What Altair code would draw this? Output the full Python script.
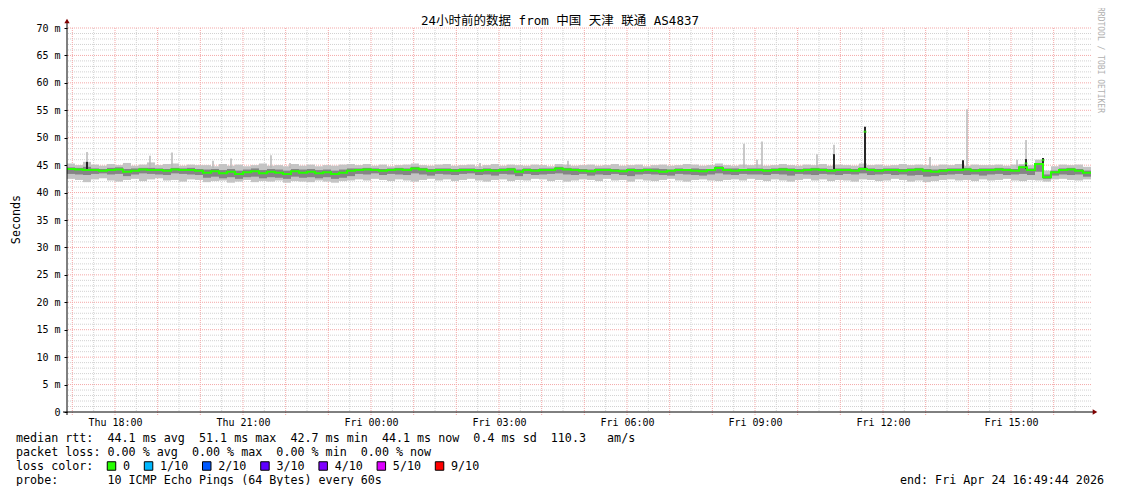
import altair as alt
import pandas as pd

# ---------------- data ----------------
TITLE = "24小时前的数据 from 中国 天津 联通 AS4837"
START_H = 16.875          # Thu 16:52:30 (hours since Thu 00:00)
END_H = 40.875            # Fri 16:52:30
BIN_H = 0.1875            # one bin = 11.25 minutes

tick_hours = [18, 21, 24, 27, 30, 33, 36, 39]
tick_labels = ["Thu 18:00", "Thu 21:00", "Fri 00:00", "Fri 03:00",
               "Fri 06:00", "Fri 09:00", "Fri 12:00", "Fri 15:00"]
y_ticks = [0, 5, 10, 15, 20, 25, 30, 35, 40, 45, 50, 55, 60, 65, 70]

median = [
    44.3, 44.2, 44.1, 44.1, 44.0, 44.1, 44.2, 43.8, 44.0, 44.2, 44.1, 44.1, 44.0, 44.2, 44.1, 44.1, 44.0,
    43.6, 43.9, 43.5, 43.8, 43.4, 43.7, 43.9, 43.5, 43.8, 43.6, 43.4, 43.9, 43.6, 43.8, 43.5, 43.7, 43.4, 43.6, 44.0,
    44.1, 44.2, 44.1, 44.0, 44.1, 44.2, 44.1, 44.4, 44.2, 44.0, 44.1, 44.1, 44.0, 44.1, 44.1, 44.0, 44.1, 44.0, 44.1, 44.2,
    43.8, 44.1, 44.0, 44.1, 44.1, 44.4, 44.2, 44.1, 44.0, 43.9, 44.1, 44.1, 44.0, 43.9, 44.1, 44.0, 44.1, 44.0, 43.8, 44.0,
    44.1, 44.1, 44.0, 43.9, 44.1, 44.5, 44.1, 44.0, 44.1, 44.1,
    44.1, 44.0, 44.1, 44.2, 44.1, 44.0, 44.1, 44.2, 44.1, 44.0, 44.1, 44.1, 44.0, 44.3, 44.1, 44.0, 44.1, 44.1, 44.0, 44.1,
    44.2, 44.0, 43.8, 44.0, 44.1, 44.1, 44.2, 44.0, 44.1, 44.1, 44.2, 44.1, 44.0, 44.6, 44.1, 45.2, 42.8, 43.7, 44.1, 44.2,
    44.0, 43.6,
]
out_lo = [
    42.5, 42.3, 41.9, 42.4, 42.6, 42.2, 42.0, 42.3, 42.5, 42.1, 42.4, 42.6, 42.2, 42.3, 42.0, 42.4, 42.3,
    41.9, 42.1, 42.2, 41.8, 42.0, 42.3, 41.9, 42.1, 42.0, 42.2, 41.8, 42.1, 42.0, 41.9, 42.2, 42.0, 41.8, 42.1, 42.2,
    42.4, 42.2, 42.5, 42.3, 42.1, 42.4, 42.2, 42.0, 42.3, 42.5, 42.2, 42.4, 42.1, 42.3, 42.5, 42.2, 42.0, 42.3, 42.4, 42.1,
    42.3, 42.2, 42.5, 42.4, 42.1, 42.3, 42.0, 42.2, 42.4, 42.3, 42.1, 42.5, 42.2, 42.3, 42.0, 42.4, 42.2, 42.1, 42.3, 42.5,
    42.2, 42.0, 42.3, 42.4, 42.2, 42.1, 42.3, 42.4, 42.2, 42.5,
    42.3, 42.1, 42.4, 42.2, 42.0, 42.3, 42.5, 42.2, 42.4, 42.1, 42.3, 42.2, 42.0, 42.4, 42.3, 42.1, 42.2, 42.5, 42.3, 42.0,
    42.2, 41.9, 42.1, 42.3, 42.4, 42.2, 42.3, 42.1, 42.4, 42.2, 42.3, 42.5, 42.2, 42.1, 42.3, 42.2, 42.0, 42.4, 42.5, 42.3,
    42.2, 42.4,
]
out_hi = [
    45.3, 45.0, 45.6, 45.1, 44.9, 45.2, 45.0, 45.4, 44.9, 45.1, 45.5, 45.0, 45.2, 45.3, 44.9, 45.1, 45.0,
    45.0, 44.8, 45.2, 44.9, 45.1, 44.8, 45.0, 45.3, 44.9, 45.0, 44.8, 45.2, 44.9, 45.1, 44.8, 45.0, 44.9, 45.1, 45.2,
    45.0, 45.2, 44.9, 45.1, 44.8, 45.0, 45.1, 45.3, 45.0, 44.9, 45.1, 45.2, 44.9, 45.0, 45.1, 44.8, 45.0, 45.2, 44.9, 45.1,
    45.0, 44.9, 45.1, 45.0, 44.8, 45.2, 45.1, 44.9, 45.0, 45.1, 44.9, 45.0, 45.2, 44.9, 45.0, 45.1, 44.8, 45.0, 45.1, 44.9,
    45.0, 45.2, 45.1, 44.9, 45.0, 45.3, 45.0, 44.9, 45.1, 45.0,
    45.1, 44.9, 45.0, 45.2, 45.0, 44.9, 45.1, 45.0, 45.2, 44.9, 45.1, 45.0, 44.9, 45.3, 45.0, 45.1, 44.9, 45.0, 45.2, 45.0,
    45.1, 45.0, 44.9, 45.1, 45.0, 45.2, 44.9, 45.1, 45.0, 45.0, 45.1, 44.9, 45.1, 45.2, 45.0, 46.0, 44.0, 44.8, 45.1, 45.0,
    45.1, 44.7,
]
mid_lo = [
    43.4, 43.3, 43.2, 43.4, 43.5, 43.3, 43.4, 43.0, 43.3, 43.5, 43.4, 43.3, 43.2, 43.5, 43.4, 43.3, 43.2,
    42.7, 42.9, 42.6, 42.8, 42.5, 42.8, 42.9, 42.6, 42.8, 42.7, 42.5, 42.9, 42.7, 42.8, 42.6, 42.8, 42.5, 42.7, 43.0,
    43.4, 43.3, 43.5, 43.2, 43.4, 43.3, 43.2, 43.5, 43.3, 43.1, 43.4, 43.3, 43.2, 43.4, 43.5, 43.2, 43.3, 43.1, 43.4, 43.3,
    43.0, 43.4, 43.2, 43.3, 43.4, 43.5, 43.3, 43.2, 43.4, 43.1, 43.3, 43.2, 43.4, 43.2, 43.0, 43.3, 43.4, 43.3, 43.2, 43.1,
    43.4, 43.3, 43.2, 43.1, 43.3, 43.5, 43.3, 43.2, 43.4, 43.3,
    43.3, 43.2, 43.4, 43.3, 43.1, 43.4, 43.3, 43.2, 43.4, 43.3, 43.2, 43.4, 43.3, 43.5, 43.2, 43.3, 43.4, 43.2, 43.3, 43.1,
    43.2, 42.9, 43.0, 43.2, 43.3, 43.4, 43.2, 43.3, 43.1, 43.3, 43.4, 43.2, 43.3, 43.4, 43.2, 43.8, 42.5, 43.1, 43.3, 43.2,
    43.3, 42.9,
]
mid_hi = [
    44.6, 44.5, 44.7, 44.4, 44.3, 44.5, 44.6, 44.3, 44.4, 44.5, 44.5, 44.4, 44.3, 44.5, 44.4, 44.5, 44.3,
    44.2, 44.3, 44.1, 44.3, 44.0, 44.2, 44.4, 44.1, 44.3, 44.2, 44.0, 44.3, 44.2, 44.3, 44.1, 44.2, 44.0, 44.2, 44.4,
    44.4, 44.5, 44.4, 44.3, 44.4, 44.5, 44.4, 44.7, 44.5, 44.3, 44.4, 44.4, 44.3, 44.4, 44.4, 44.3, 44.4, 44.3, 44.4, 44.5,
    44.2, 44.4, 44.3, 44.4, 44.4, 44.7, 44.5, 44.4, 44.3, 44.2, 44.4, 44.4, 44.3, 44.2, 44.4, 44.3, 44.4, 44.4, 44.3, 44.2,
    44.4, 44.3, 44.4, 44.3, 44.1, 44.8, 44.4, 44.4, 44.3, 44.4,
    44.4, 44.3, 44.4, 44.5, 44.4, 44.3, 44.4, 44.5, 44.4, 44.3, 44.4, 44.4, 44.3, 44.6, 44.4, 44.3, 44.4, 44.4, 44.3, 44.4,
    44.5, 44.3, 44.2, 44.3, 44.4, 44.4, 44.5, 44.3, 44.4, 44.4, 44.5, 44.4, 44.3, 44.9, 44.4, 45.4, 43.3, 44.0, 44.4, 44.5,
    44.3, 44.0,
]
for arr in (median, out_lo, out_hi, mid_lo, mid_hi):
    assert len(arr) == 128, len(arr)

# short upward outliers (light smoke) and dark spikes
spike_hour = [17.344, 18.820, 19.336, 20.297, 20.719, 21.656, 22.102, 26.555, 28.617,
              32.742, 33.047, 33.164, 34.453, 34.852, 37.102, 37.969, 39.141, 39.352]
spike_top = [47.4, 46.7, 47.3, 45.8, 46.2, 46.8, 45.4, 45.4, 45.8,
             48.9, 46.0, 49.3, 47.0, 48.7, 46.5, 55.2, 46.0, 49.6]
dark_hour = [17.344, 34.852, 35.578, 37.875, 39.352, 39.750]
dark_top = [45.6, 47.0, 52.0, 45.9, 46.1, 46.3]
peak_hour = [35.578, 39.352, 39.750]
peak_med = [51.1, 45.3, 45.9]

legend_labels = ["0", "1/10", "2/10", "3/10", "4/10", "5/10", "9/10"]
legend_colors = ["#26ff00", "#00b8ff", "#0059ff", "#5e00ff", "#7e00ff", "#dd00ff", "#ff0000"]

line_rtt = "median rtt:  44.1 ms avg  51.1 ms max  42.7 ms min  44.1 ms now  0.4 ms sd  110.3   am/s"
line_loss = "packet loss: 0.00 % avg  0.00 % max  0.00 % min  0.00 % now"
line_probe = "probe:       10 ICMP Echo Pings (64 Bytes) every 60s"
line_end = "end: Fri Apr 24 16:49:44 2026"

# ---------------- chart ----------------
MONO = "DejaVu Sans Mono"
W, H = 1024, 384

hours = [START_H + i * BIN_H for i in range(128)]
bins = pd.DataFrame({"h": hours, "h2": [h + BIN_H for h in hours],
                     "med": median, "olo": out_lo, "ohi": out_hi,
                     "mlo": mid_lo, "mhi": mid_hi})
med_line = pd.DataFrame({"h": hours + [END_H], "med": median + [median[-1]]})
spikes = pd.DataFrame({"h": spike_hour, "v": spike_top})
darks = pd.DataFrame({"h": dark_hour, "v": dark_top})
peaks = pd.DataFrame({"h": peak_hour, "v": peak_med})

minor_y = pd.DataFrame({"v": [v for v in range(0, 71) if v % 5 != 0]})
major_y = pd.DataFrame({"v": [v for v in range(5, 71, 5)]})
minor_x = pd.DataFrame({"h": [h + 0.5 for h in range(16, 41) if START_H < h + 0.5 < END_H]})
major_x = pd.DataFrame({"h": [h for h in range(17, 41)]})
one = pd.DataFrame({"a": [0]})

xscale = alt.Scale(domain=[START_H, END_H], nice=False, zero=False)
yscale = alt.Scale(domain=[0, 70], nice=False, zero=False)

xexpr = "''"
for hv, lab in reversed(list(zip(tick_hours, tick_labels))):
    xexpr = f"datum.value == {hv} ? '{lab}' : ({xexpr})"

x_axis = alt.Axis(values=tick_hours, labelExpr=xexpr, title=None, grid=False,
                  domain=False, ticks=False, labelPadding=10, labelBaseline="middle",
                  labelFont=MONO, labelFontSize=10, labelColor="#000",
                  labelOverlap=False, labelFlush=False)
y_axis = alt.Axis(values=y_ticks,
                  labelExpr="datum.value == 0 ? '0\u00a0\u00a0' : datum.value + '\u00a0m'",
                  title=None, grid=False, domain=False, ticks=True, tickSize=3,
                  tickColor="#000", labelPadding=4, labelFont=MONO, labelFontSize=10,
                  labelColor="#000", labelOverlap=False, labelFlush=False)


def X(f):
    return alt.X(f, type="quantitative", scale=xscale, axis=x_axis)


def Y(f):
    return alt.Y(f, type="quantitative", scale=yscale, axis=y_axis)


grid_minor_h = alt.Chart(minor_y).mark_rule(color="#d2d2d2", strokeWidth=1, strokeDash=[1, 1]).encode(y=Y("v"))
grid_minor_v = alt.Chart(minor_x).mark_rule(color="#d2d2d2", strokeWidth=1, strokeDash=[1, 1]).encode(x=X("h"))
grid_major_h = alt.Chart(major_y).mark_rule(color="#f4a8a8", strokeWidth=1, strokeDash=[1, 1]).encode(y=Y("v"))
grid_major_v = alt.Chart(major_x).mark_rule(color="#f4a8a8", strokeWidth=1, strokeDash=[1, 1]).encode(
    x=X("h"), y=alt.value(0), y2=alt.value(H + 3))

smoke_out = alt.Chart(bins).mark_rect(color="#c4c4c4").encode(x=X("h"), x2="h2", y=Y("olo"), y2="ohi")
smoke_mid = alt.Chart(bins).mark_rect(color="#858585").encode(x=X("h"), x2="h2", y=Y("mlo"), y2="mhi")
light_sp = alt.Chart(spikes).mark_rule(color="#b8b8b8", strokeWidth=1.5).encode(
    x=X("h"), y=Y("v"), y2=alt.datum(44.5))
dark_sp = alt.Chart(darks).mark_rule(color="#262626", strokeWidth=2).encode(
    x=X("h"), y=Y("v"), y2=alt.datum(44.3))
med = alt.Chart(med_line).mark_line(color="#26ff00", strokeWidth=2, interpolate="step-after").encode(
    x=X("h"), y=Y("med"))
peak = alt.Chart(peaks).mark_tick(color="#26ff00", orient="horizontal", size=3, thickness=2).encode(
    x=X("h"), y=Y("v"))

yline = alt.Chart(one).mark_rule(color="#000", strokeWidth=1).encode(
    x=alt.value(0), y=alt.value(-6), y2=alt.value(H + 3))
xline = alt.Chart(one).mark_rule(color="#000", strokeWidth=1).encode(
    x=alt.value(-4), x2=alt.value(W + 2), y=alt.value(H))
arrow_up = alt.Chart(one).mark_point(shape="triangle-up", filled=True, color="#7f0000", size=28, opacity=1).encode(
    x=alt.value(0), y=alt.value(-7))
arrow_right = alt.Chart(one).mark_point(shape="triangle-right", filled=True, color="#7f0000", size=28, opacity=1).encode(
    x=alt.value(W + 4), y=alt.value(H))


def txt(s, x, y, size=11.7, align="left", color="#000", angle=0, font=MONO):
    s = s.replace(" ", "\u00a0")
    return alt.Chart(one).mark_text(text=s, align=align, baseline="middle", font=font,
                                    fontSize=size, color=color, angle=angle).encode(
        x=alt.value(x), y=alt.value(y))


LEFT = 16 - 67
ROWS = [410, 424, 438, 451.5]   # page y 438, 452, 466, 479.5
texts = [
    txt(TITLE, 493, -7, size=12.5, align="center", font=MONO + ", Noto Sans CJK SC"),
    txt("Seconds", -51, 191.5, size=11.7, align="center", angle=270),
    txt("RRDTOOL / TOBI OETIKER", 1033, 32, size=8, align="center", color="#b0b0b0", angle=90),
    txt(line_rtt, LEFT, ROWS[0]),
    txt(line_loss, LEFT, ROWS[1]),
    txt("loss color:", LEFT, ROWS[2]),
    txt(line_probe, LEFT, ROWS[3]),
    txt(line_end, 1037, ROWS[3], align="right"),
]

boxes = []
bx = 107
for lab, col in zip(legend_labels, legend_colors):
    boxes.append(alt.Chart(one).mark_square(size=72, fill=col, stroke="#000", strokeWidth=1, opacity=1).encode(
        x=alt.value(bx + 4.5 - 67), y=alt.value(ROWS[2])))
    boxes.append(txt(lab, bx + 16 - 67, ROWS[2]))
    bx = bx + 16 + 7.05 * len(lab) + 14

chart = alt.layer(
    grid_minor_h, grid_minor_v, grid_major_h, grid_major_v,
    smoke_out, smoke_mid, light_sp, dark_sp, med, peak,
    yline, xline, arrow_up, arrow_right,
    *texts, *boxes,
).properties(
    width=W, height=H,
    padding={"left": 59, "top": 20, "right": 22, "bottom": 74},
    autosize=alt.AutoSizeParams(type="none"),
    background="#ffffff",
).configure_view(stroke=None)

chart.save("out.html", embed_options={"renderer": "svg", "actions": False})
